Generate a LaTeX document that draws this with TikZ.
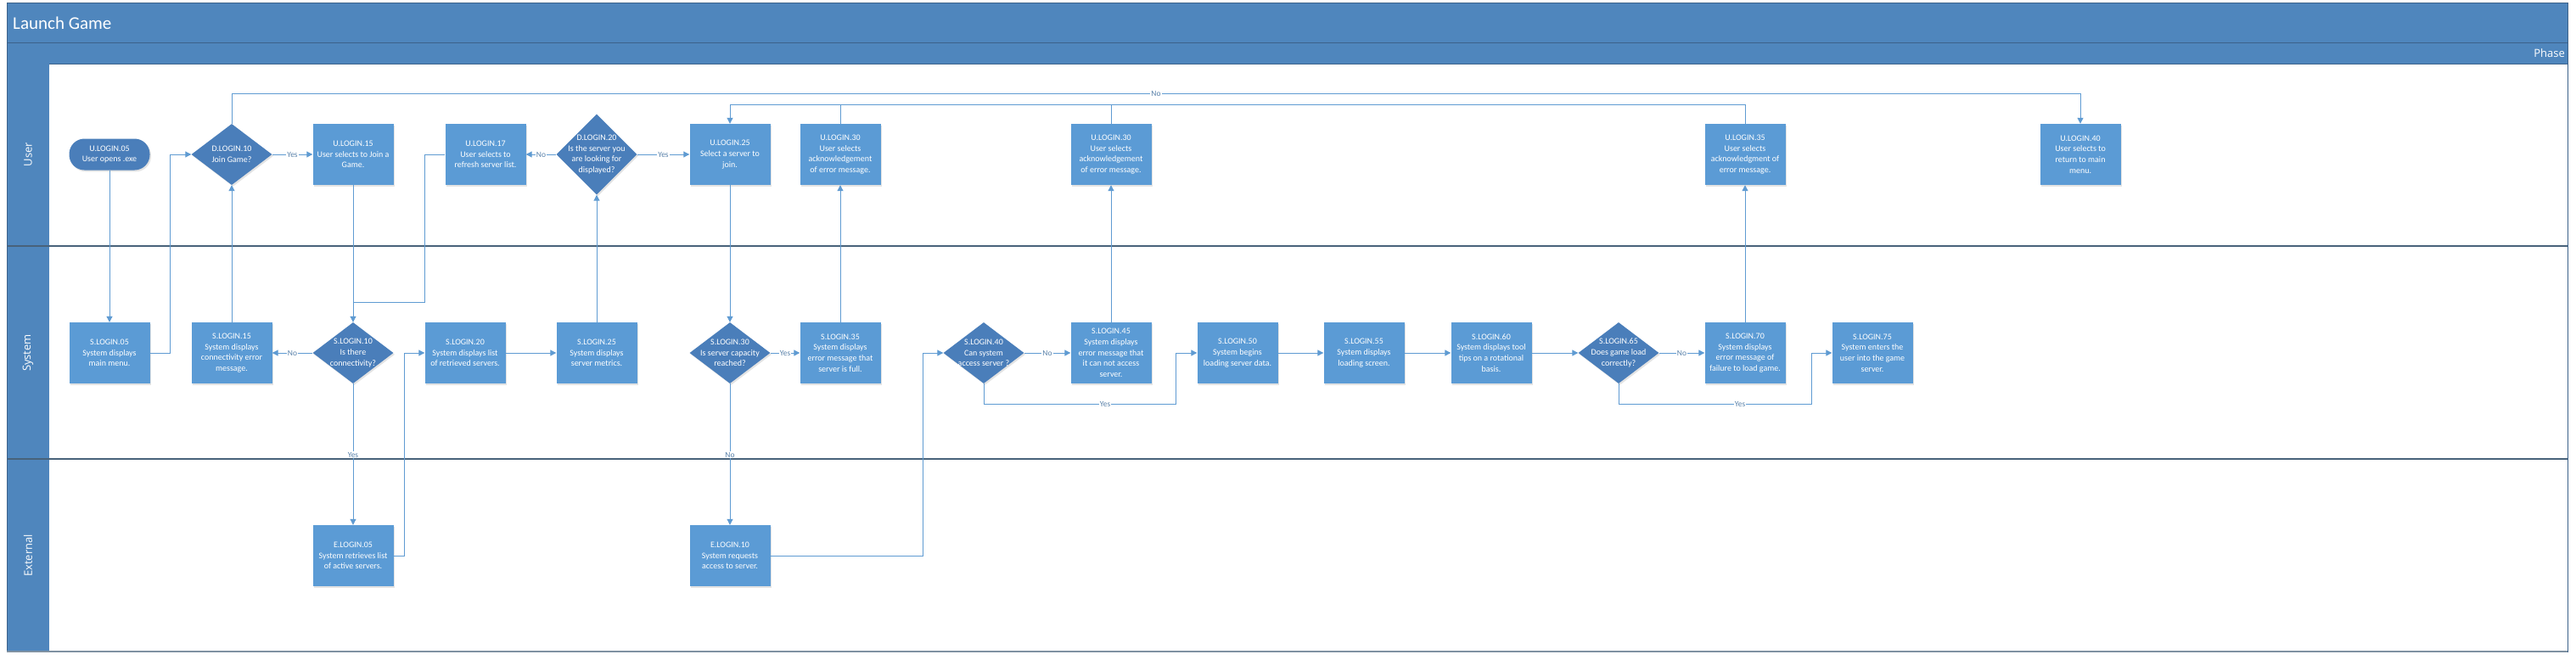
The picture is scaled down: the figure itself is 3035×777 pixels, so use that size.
\documentclass[tikz,border=0pt]{standalone}
\usepackage{fontspec}
\setmainfont{Carlito}
\newfontfamily\lanefont{Open Sans}
\usetikzlibrary{arrows.meta,shapes.geometric,shadows}
\definecolor{hdr}{RGB}{79,134,189}
\definecolor{hdrline}{RGB}{60,98,138}
\definecolor{boxc}{RGB}{91,155,213}
\definecolor{decc}{RGB}{74,126,186}
\definecolor{connc}{RGB}{95,155,210}
\definecolor{lanec}{RGB}{72,98,122}
\definecolor{lblc}{RGB}{90,130,170}
\tikzset{
  nfont/.style={font=\fontsize{10}{12.7}\selectfont},
  proc/.style={rectangle, fill=boxc, minimum width=95pt, minimum height=72pt, inner sep=0pt,
     text=white, align=center, nfont,
     drop shadow={opacity=0.22, shadow xshift=1.5pt, shadow yshift=-1.8pt}},
  term/.style={rectangle, rounded corners=18pt, fill=decc, minimum width=95pt, minimum height=37pt,
     inner sep=0pt, text=white, align=center, nfont,
     drop shadow={opacity=0.22, shadow xshift=1.5pt, shadow yshift=-1.8pt}},
  dec/.style={diamond, fill=decc, minimum width=95pt, minimum height=72pt, inner sep=0pt,
     drop shadow={opacity=0.22, shadow xshift=1.5pt, shadow yshift=-1.8pt}},
  dtxt/.style={text=white, align=center, nfont, inner sep=0pt},
  arr/.style={draw=connc, line width=1pt, -{Triangle[length=7pt,width=7pt]}},
  wire/.style={draw=connc, line width=1pt},
  elab/.style={fill=white, text=lblc, font=\fontsize{9.5}{10}\selectfont, inner sep=1pt},
  lanetxt/.style={rotate=90, text=white, font=\lanefont\fontsize{13}{15}\selectfont},
}
\begin{document}
\begin{tikzpicture}[x=1pt,y=-1pt]
\useasboundingbox (0,0) rectangle (3035,777);
\fill[white] (0,0) rectangle (3035,777);
% pool frame
\fill[hdr] (8,3) rectangle (3025,75);
\draw[hdrline, line width=0.8pt] (8,50) -- (3025,50);
\draw[hdrline, line width=1pt] (8,75) -- (3025,75);
\fill[hdr] (8,75) rectangle (58,768);
\draw[lanec, line width=1.3pt] (8,290) -- (3025,290);
\draw[lanec, line width=1.3pt] (8,541) -- (3025,541);
\draw[hdrline, line width=1pt] (8,3) rectangle (3025,768);
\draw[lanec!70!white, line width=2.2pt] (8,768) -- (3025,768);
\node[anchor=west, text=white, font=\fontsize{21}{24}\selectfont, inner sep=0pt] (title) at (15,27) {Launch Game};
\node[anchor=east, text=white, font=\lanefont\fontsize{13}{15}\selectfont, inner sep=0pt] (phase) at (3022,63) {Phase};
\node[lanetxt] (lUser) at (33,182) {User};
\node[lanetxt] (lSystem) at (33,416) {System};
\node[lanetxt] (lExternal) at (33,655) {External};

% ---------- User lane ----------
\node[term] (u05) at (129,182) {U.LOGIN.05\\User opens .exe};
\node[dec] (d10) at (273,182) {};
\node[dtxt] (d10t) at (273,182) {D.LOGIN.10\\Join Game?};
\node[proc] (u15) at (416,182) {U.LOGIN.15\\User selects to Join a\\Game.};
\node[proc] (u17) at (572,182) {U.LOGIN.17\\User selects to\\refresh server list.};
\node[dec, minimum height=95pt] (d20) at (703,182) {};
\node[dtxt] (d20t) at (703,182) {D.LOGIN.20\\Is the server you\\are looking for\\displayed?};
\node[proc] (u25) at (860,182) {U.LOGIN.25\\Select a server to\\join.};
\node[proc] (u30a) at (990,182) {U.LOGIN.30\\User selects\\acknowledgement\\of error message.};
\node[proc] (u30b) at (1309,182) {U.LOGIN.30\\User selects\\acknowledgement\\of error message.};
\node[proc] (u35) at (2056,182) {U.LOGIN.35\\User selects\\acknowledgment of\\error message.};
\node[proc] (u40) at (2451,182) {U.LOGIN.40\\User selects to\\return to main\\menu.};

% ---------- System lane ----------
\node[proc] (s05) at (129,416) {S.LOGIN.05\\System displays\\main menu.};
\node[proc] (s15) at (273,416) {S.LOGIN.15\\System displays\\connectivity error\\message.};
\node[dec] (s10) at (416,416) {};
\node[dtxt] (s10t) at (416,416) {S.LOGIN.10\\Is there\\connectivity?};
\node[proc] (s20) at (548,416) {S.LOGIN.20\\System displays list\\of retrieved servers.};
\node[proc] (s25) at (703,416) {S.LOGIN.25\\System displays\\server metrics.};
\node[dec] (s30) at (860,416) {};
\node[dtxt] (s30t) at (860,416) {S.LOGIN.30\\Is server capacity\\reached?};
\node[proc] (s35) at (990,416) {S.LOGIN.35\\System displays\\error message that\\server is full.};
\node[dec] (s40) at (1159,416) {};
\node[dtxt] (s40t) at (1159,416) {S.LOGIN.40\\Can system\\access server ?};
\node[proc] (s45) at (1309,416) {S.LOGIN.45\\System displays\\error message that\\it can not access\\server.};
\node[proc] (s50) at (1458,416) {S.LOGIN.50\\System begins\\loading server data.};
\node[proc] (s55) at (1607,416) {S.LOGIN.55\\System displays\\loading screen.};
\node[proc] (s60) at (1757,416) {S.LOGIN.60\\System displays tool\\tips on a rotational\\basis.};
\node[dec] (s65) at (1907,416) {};
\node[dtxt] (s65t) at (1907,416) {S.LOGIN.65\\Does game load\\correctly?};
\node[proc] (s70) at (2056,416) {S.LOGIN.70\\System displays\\error message of\\failure to load game.};
\node[proc] (s75) at (2206,416) {S.LOGIN.75\\System enters the\\user into the game\\server.};

% ---------- External lane ----------
\node[proc] (e05) at (416,655) {E.LOGIN.05\\System retrieves list\\of active servers.};
\node[proc] (e10) at (860,655) {E.LOGIN.10\\System requests\\access to server.};

% ---------- helper coordinates ----------
\coordinate (cNo) at (273,110);
\coordinate (cTop) at (860,123);
\coordinate (c05) at (200,182);
\coordinate (c17) at (500,182);
\coordinate (m17) at (416,356);
\coordinate (cE05) at (476,416);
\coordinate (cE10) at (1087,416);
\coordinate (cY40) at (1159,476);
\coordinate (cY40b) at (1385,416);
\coordinate (cY65) at (1907,476);
\coordinate (cY65b) at (2134,416);

% ---------- connectors ----------
\draw[arr] (u05.south) -- (s05.north);
\draw[arr] (s05.east) -| (c05) -- (d10.west);
\draw[arr] (s15.north) -- (d10.south);
\draw[arr] (d10.east) -- (u15.west) node[elab, midway] (l1) {Yes};
\draw[arr] (d10.north) -- (cNo) -- (cNo -| u40.north) -- (u40.north);
\node[elab] (l2) at (1362,110) {No};
\draw[arr] (u15.south) -- (s10.north);
\draw[wire] (u17.west) -- (c17) |- (m17);
\draw[arr] (s10.west) -- (s15.east) node[elab, midway] (l3) {No};
\draw[arr] (s10.south) -- (e05.north);
\node[elab] (l4) at (416,536) {Yes};
\draw[arr] (e05.east) -| (cE05) -- (s20.west);
\draw[arr] (s20.east) -- (s25.west);
\draw[arr] (s25.north) -- (d20.south);
\draw[arr] (d20.west) -- (u17.east) node[elab, midway] (l5) {No};
\draw[arr] (d20.east) -- (u25.west) node[elab, midway] (l6) {Yes};
\draw[arr] (u25.south) -- (s30.north);
\draw[arr] (s30.east) -- (s35.west) node[elab, midway] (l7) {Yes};
\draw[arr] (s35.north) -- (u30a.south);
\draw[arr] (u35.north) -- (cTop -| u35.north) -- (cTop) -- (u25.north);
\draw[wire] (u30a.north) -- (cTop -| u30a.north);
\draw[wire] (u30b.north) -- (cTop -| u30b.north);
\draw[arr] (s30.south) -- (e10.north);
\node[elab] (l8) at (860,536) {No};
\draw[arr] (e10.east) -| (cE10) -- (s40.west);
\draw[arr] (s40.east) -- (s45.west) node[elab, midway] (l9) {No};
\draw[arr] (s45.north) -- (u30b.south);
\draw[arr] (s40.south) -- (cY40) -| (cY40b) -- (s50.west);
\node[elab] (l10) at (1302,476) {Yes};
\draw[arr] (s50.east) -- (s55.west);
\draw[arr] (s55.east) -- (s60.west);
\draw[arr] (s60.east) -- (s65.west);
\draw[arr] (s65.east) -- (s70.west) node[elab, midway] (l11) {No};
\draw[arr] (s70.north) -- (u35.south);
\draw[arr] (s65.south) -- (cY65) -| (cY65b) -- (s75.west);
\node[elab] (l12) at (2050,476) {Yes};
\end{tikzpicture}
\end{document}
